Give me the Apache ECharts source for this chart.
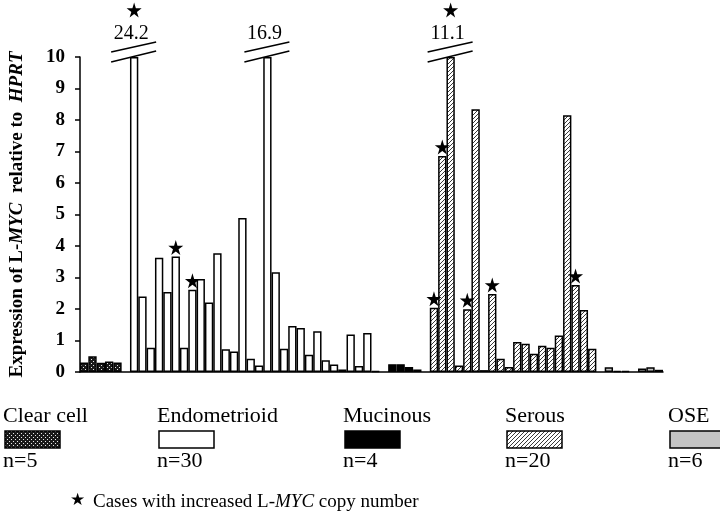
<!DOCTYPE html>
<html><head><meta charset="utf-8">
<script src="https://cdn.jsdelivr.net/npm/echarts@6/dist/echarts.min.js"></script>
<style>html,body{margin:0;padding:0;background:#fff}#c{width:720px;height:518px}</style>
</head><body><div id="c"></div>
<script>
// ---- data ----
const groupNames = ['Clear cell', 'Endometrioid', 'Mucinous', 'Serous', 'OSE'];
const groupCounts = ['n=5', 'n=30', 'n=4', 'n=20', 'n=6'];
const clearCell = [0.30, 0.50, 0.29, 0.33, 0.30];
const endometrioid = [24.2, 2.40, 0.77, 3.63, 2.54, 3.67, 0.77, 2.61, 2.95, 2.21, 3.77, 0.72, 0.65, 4.89, 0.42, 0.21,
  16.9, 3.17, 0.74, 1.46, 1.40, 0.55, 1.29, 0.37, 0.24, 0.08, 1.19, 0.19, 1.24, 0.03];
const mucinous = [0.25, 0.25, 0.16, 0.08];
const serous = [2.04, 6.86, 11.1, 0.21, 1.99, 8.34, 0.06, 2.48, 0.42, 0.16, 0.95, 0.90, 0.58, 0.83, 0.77, 1.16, 8.15, 2.76, 1.97, 0.74];
const ose = [0.15, 0.03, 0.03, null, 0.11, 0.15, 0.07];
const clearCellStars = [];
const endometrioidStars = [0, 5, 7];
const mucinousStars = [];
const serousStars = [0, 1, 2, 4, 7, 17];
const oseStars = [];
const yTicks = [0, 1, 2, 3, 4, 5, 6, 7, 8, 9, 10];
const CAP = 10;

// ---- fills ----
function tile(w, h, draw) {
  const c = document.createElement('canvas'); c.width = w; c.height = h;
  const g = c.getContext('2d'); draw(g); return { image: c, repeat: 'repeat' };
}
const checkFill = tile(4, 4, g => {
  g.fillStyle = '#1a1a1a'; g.fillRect(0, 0, 4, 4);
  g.fillStyle = '#e8e8e8'; g.fillRect(1, 1, 1, 1); g.fillRect(3, 3, 1, 1);
});
const hatchFill = tile(4, 4, g => {
  g.fillStyle = '#fff'; g.fillRect(0, 0, 4, 4);
  g.strokeStyle = '#222'; g.lineWidth = 0.9;
  g.beginPath();
  g.moveTo(-1, 5); g.lineTo(5, -1);
  g.moveTo(-1, 1); g.lineTo(1, -1);
  g.moveTo(3, 5); g.lineTo(5, 3);
  g.stroke();
});
const fills = [checkFill, '#ffffff', '#000000', hatchFill, '#c4c4c4'];

// ---- build ----
const groups = [clearCell, endometrioid, mucinous, serous, ose];
const stars = [clearCellStars, endometrioidStars, mucinousStars, serousStars, oseStars];
const cats = [], barData = [], starData = [], breakData = [];
groups.forEach((g, gi) => {
  if (gi > 0) { cats.push('gap' + gi); barData.push(null); }
  g.forEach((v, i) => {
    const idx = cats.length;
    cats.push(groupNames[gi] + ' ' + (i + 1));
    barData.push(v == null ? null : { value: Math.min(v, CAP), itemStyle: { color: fills[gi] } });
    if (v != null && v > CAP) breakData.push([idx, CAP, v]);
    if (stars[gi].includes(i)) starData.push({ value: [idx, Math.min(v, CAP)], symbolOffset: [0, v > CAP ? -47 : -9] });
  });
});

const serif = '"Liberation Serif", "DejaVu Serif", serif';
const starPath = 'path://M50,0 L61,35 L98,35 L68,57 L79,91 L50,70 L21,91 L32,57 L2,35 L39,35 Z';

const legendX = [3, 157, 343, 505, 668];
const graphics = [];
groupNames.forEach((n, i) => {
  graphics.push({ type: 'text', left: legendX[i], top: 405, style: { text: n, font: '22px ' + serif, fill: '#000' } });
  graphics.push({ type: 'rect', shape: { x: legendX[i] + 2, y: 431, width: 55, height: 17 },
    style: { fill: fills[i], stroke: '#000', lineWidth: 1.5 } });
  graphics.push({ type: 'text', left: legendX[i], top: 450, style: { text: groupCounts[i], font: '22px ' + serif, fill: '#000' } });
});
graphics.push({ type: 'text', left: 70, top: 492, style: {
  text: '{s|★} Cases with increased L-{i|MYC} copy number',
  font: '19px ' + serif, fill: '#000',
  rich: { s: { font: '17px "DejaVu Sans"', fill: '#000', padding: [0, 3, 3, 0] }, i: { font: 'italic 19px ' + serif, fill: '#000' } }
} });

const chart = echarts.init(document.getElementById('c'), null, { renderer: 'canvas' });
chart.setOption({
  animation: false,
  backgroundColor: '#fff',
  grid: { left: 77, right: 57, top: 57, bottom: 146, containLabel: false },
  xAxis: {
    type: 'category', data: cats, boundaryGap: true,
    axisLine: { lineStyle: { color: '#000', width: 1.5 } },
    axisTick: { show: false }, axisLabel: { show: false }, splitLine: { show: false }
  },
  yAxis: {
    type: 'value', min: yTicks[0], max: yTicks[yTicks.length - 1], interval: 1,
    axisLine: { show: true, lineStyle: { color: '#000', width: 1.5 } },
    axisTick: { show: true, inside: false, length: 5, lineStyle: { color: '#000', width: 1.5 } },
    axisLabel: { color: '#000', fontFamily: serif, fontWeight: 'bold', fontSize: 19, margin: 15 },
    splitLine: { show: false },
    name: '{b|Expression of L-}{bi|MYC}{b|  relative to  }{bi|HPRT}',
    nameLocation: 'middle', nameRotate: 90, nameGap: 53,
    nameTextStyle: {
      rich: {
        b: { fontFamily: serif, fontWeight: 'bold', fontSize: 19, color: '#000' },
        bi: { fontFamily: serif, fontWeight: 'bold', fontStyle: 'italic', fontSize: 19, color: '#000' }
      }
    }
  },
  series: [
    { type: 'bar', data: barData, barWidth: '100%', barCategoryGap: 0,
      itemStyle: { borderColor: '#000', borderWidth: 1.5 }, z: 2 },
    { type: 'custom', data: breakData, clip: false, z: 3, encode: { x: 0, y: 1 },
      renderItem: (params, api) => {
        const p = api.coord([api.value(0), api.value(1)]);
        const x = p[0], y = p[1];
        return { type: 'group', children: [
          { type: 'line', shape: { x1: x - 23, y1: y + 5, x2: x + 22, y2: y - 6 }, style: { stroke: '#000', lineWidth: 1.5 } },
          { type: 'line', shape: { x1: x - 23, y1: y - 5, x2: x + 22, y2: y - 15 }, style: { stroke: '#000', lineWidth: 1.5 } },
          { type: 'text', style: { text: api.value(2).toFixed(1), x: x - 3, y: y - 23, align: 'center', verticalAlign: 'middle',
            font: '20px ' + serif, fill: '#000' } }
        ] };
      } },
    { type: 'scatter', data: starData, symbol: starPath, symbolSize: 15, clip: false, z: 4,
      itemStyle: { color: '#000', opacity: 1 } }
  ],
  graphic: graphics
});
</script>
</body></html>
